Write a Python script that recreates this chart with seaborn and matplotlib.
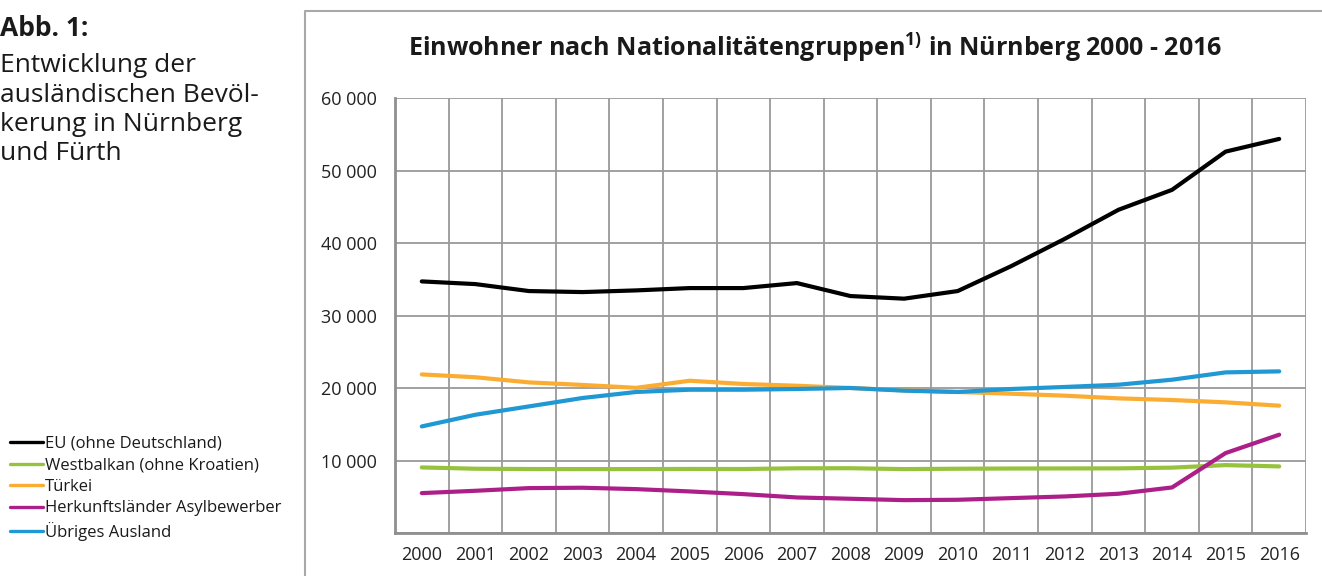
import pandas as pd
import matplotlib
matplotlib.use("Agg")
import matplotlib.pyplot as plt
import seaborn as sns
from matplotlib.lines import Line2D

# Werte
jahre = list(range(2000, 2017))
gruppen = ["EU (ohne Deutschland)", "Westbalkan (ohne Kroatien)", "Türkei",
           "Herkunftsländer Asylbewerber", "Übriges Ausland"]
eu = [34720, 34350, 33390, 33250, 33480, 33800, 33800, 34490, 32700,
      32340, 33390, 36830, 40590, 44590, 47340, 52610, 54360]
westbalkan = [9080, 8900, 8860, 8850, 8850, 8870, 8860, 8960, 8970,
              8850, 8900, 8930, 8940, 8950, 9050, 9400, 9220]
tuerkei = [21900, 21510, 20800, 20450, 20050, 21030, 20580, 20340, 20030,
           19700, 19480, 19240, 18970, 18600, 18370, 18050, 17590]
asyl = [5540, 5860, 6230, 6280, 6090, 5770, 5400, 4940, 4760,
        4570, 4620, 4850, 5080, 5450, 6320, 11060, 13590]
uebrige = [14730, 16340, 17490, 18650, 19480, 19790, 19790, 19890, 20030,
           19660, 19480, 19890, 20170, 20480, 21170, 22180, 22320]
farben = ["#000000", "#97c23d", "#fbad33", "#ad1f88", "#1f98d4"]
y_ticks = [0, 10000, 20000, 30000, 40000, 50000, 60000]
y_labels = ["", "10 000", "20 000", "30 000", "40 000", "50 000", "60 000"]
seitentext = ["Entwicklung der", "ausländischen Bevöl-", "kerung in Nürnberg", "und Fürth"]

df = pd.DataFrame({
    "Jahr": jahre * 5,
    "Einwohner": eu + westbalkan + tuerkei + asyl + uebrige,
    "Gruppe": sum([[g] * len(jahre) for g in gruppen], []),
})

sns.set_style("white")
plt.rcParams["font.family"] = ["Open Sans", "DejaVu Sans"]
plt.rcParams["mathtext.fontset"] = "custom"
plt.rcParams["mathtext.bf"] = "Open Sans:bold"
plt.rcParams["mathtext.rm"] = "Open Sans"

fig = plt.figure(figsize=(13.22, 5.76), dpi=100)
ax = fig.add_axes([395 / 1322, 1 - 533.3 / 576, (1306 - 395) / 1322, (533.3 - 98) / 576])

sns.lineplot(data=df, x="Jahr", y="Einwohner", hue="Gruppe", hue_order=gruppen,
             palette=farben, linewidth=3, ax=ax, zorder=3)
ax.get_legend().remove()

grau = "#8f8f8f"
ax.set_xlim(jahre[0] - 0.5, jahre[-1] + 0.5)
ax.set_ylim(0, 60000)
ax.set_xticks(jahre)
ax.set_xticklabels([str(j) for j in jahre])
ax.set_xticks([j - 0.5 for j in jahre] + [jahre[-1] + 0.5], minor=True)
ax.set_yticks(y_ticks)
ax.set_yticklabels(y_labels)
ax.tick_params(axis="x", which="major", length=0, pad=9, labelsize=13, labelcolor="#222222")
ax.tick_params(axis="x", which="minor", length=6, width=1.5, color=grau, direction="out")
ax.tick_params(axis="y", length=6, width=1.5, color=grau, pad=7, labelsize=13,
               labelcolor="#222222", direction="out")
ax.grid(False)
ax.grid(True, axis="y", which="major", color="#9a9a9a", linewidth=1.3, zorder=0)
ax.grid(True, axis="x", which="minor", color="#9a9a9a", linewidth=1.3, zorder=0)
for s in ["top", "right"]:
    ax.spines[s].set_visible(False)
for s in ["left", "bottom"]:
    ax.spines[s].set_color(grau)
    ax.spines[s].set_linewidth(2)
ax.set_xlabel("")
ax.set_ylabel("")

# Rahmen um das Diagramm
fig.add_artist(Line2D([305 / 1322, 305 / 1322, 1], [0, 1 - 11 / 576, 1 - 11 / 576],
                      transform=fig.transFigure, color="#a8a8a8", linewidth=1.5))

fig.text(815 / 1322, 1 - 48 / 576,
         r"Einwohner nach Nationalitätengruppen$^{\mathbf{1)}}$ in Nürnberg 2000 - 2016",
         ha="center", va="center", fontsize=18, fontweight="bold", color="#1a1a1a")

fig.text(0, 1 - 36 / 576, "Abb. 1:", ha="left", va="baseline", fontsize=19,
         fontweight="bold", color="#1a1a1a")
for i, zeile in enumerate(seitentext):
    fig.text(0, 1 - (72 + 29.5 * i) / 576, zeile, ha="left", va="baseline",
             fontsize=19, color="#1a1a1a")

leg_handles = [Line2D([], [], color=c, linewidth=2.4) for c in farben]
fig.legend(leg_handles, gruppen, loc="upper left", bbox_to_anchor=(10 / 1322, 1 - 436 / 576),
           frameon=False, fontsize=12, handlelength=2.0, handletextpad=0.1,
           labelspacing=0.33, borderpad=0, borderaxespad=0, labelcolor="#1a1a1a")

fig.savefig("out.png", dpi=100)
